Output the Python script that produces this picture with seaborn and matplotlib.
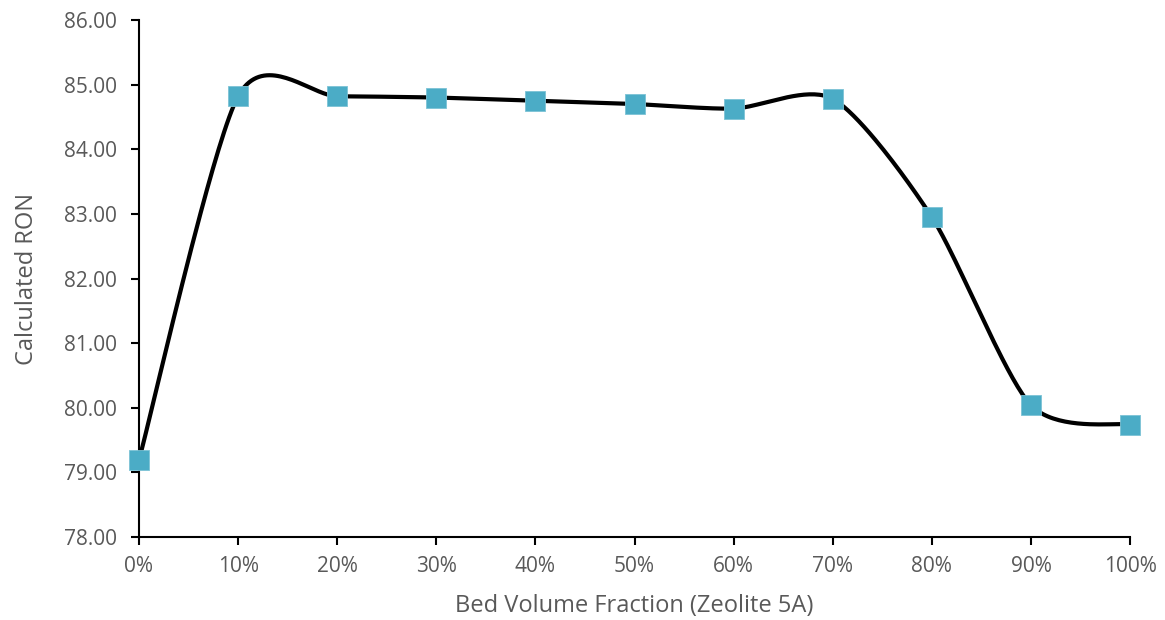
import numpy as np
import pandas as pd
import seaborn as sns
import matplotlib.pyplot as plt
from matplotlib.ticker import FuncFormatter

sns.set_style("white")
plt.rcParams['font.family'] = ['Open Sans', 'DejaVu Sans']

fraction = [0.0, 0.1, 0.2, 0.3, 0.4, 0.5, 0.6, 0.7, 0.8, 0.9, 1.0]
ron = [79.19, 84.82, 84.82, 84.80, 84.75, 84.70, 84.63, 84.78, 82.95, 80.04, 79.74]

df = pd.DataFrame({"fraction": fraction, "ron": ron})


# smoothed line like Excel's (bezier through the points)
def smooth_curve(x, y, k=0.13, n=40):
    p = np.column_stack([x, y])
    pts = np.vstack([p[0], p, p[-1]])
    out = []
    for i in range(1, len(pts) - 2):
        p0, p3 = pts[i], pts[i + 1]
        c1 = p0 + (pts[i + 1] - pts[i - 1]) * k
        c2 = p3 - (pts[i + 2] - pts[i]) * k
        t = np.linspace(0, 1, n)[:, None]
        seg = (1 - t) ** 3 * p0 + 3 * (1 - t) ** 2 * t * c1 + 3 * (1 - t) * t ** 2 * c2 + t ** 3 * p3
        out.append(seg if i == 1 else seg[1:])
    out = np.vstack(out)
    return out[:, 0], out[:, 1]


sx, sy = smooth_curve(np.array(fraction), np.array(ron))

fig = plt.figure(figsize=(11.65, 6.2), dpi=100)
ax = fig.add_axes([0.1193, 0.1339, 0.8507, 0.8338])

sns.lineplot(x=sx, y=sy, sort=False, color="black", linewidth=3, ax=ax, zorder=2)
sns.scatterplot(data=df, x="fraction", y="ron", marker="s", s=210, color="#4BACC6",
                edgecolor="#7cc3d6", linewidth=0.6, ax=ax, zorder=3, clip_on=False)

ax.set_xlim(0, 1)
ax.set_ylim(78, 86)
ax.set_xticks(np.arange(0, 1.01, 0.1))
ax.set_yticks(np.arange(78, 86.01, 1))
ax.xaxis.set_major_formatter(FuncFormatter(lambda v, _: f"{v * 100:.0f}%"))
ax.yaxis.set_major_formatter(FuncFormatter(lambda v, _: f"{v:.2f}"))

sns.despine(ax=ax)
for side in ["left", "bottom"]:
    ax.spines[side].set_color("black")
    ax.spines[side].set_linewidth(1.5)
ax.tick_params(axis="both", direction="out", length=6, width=1.5, color="black",
               labelsize=15, labelcolor="#595959", left=True, bottom=True)
ax.tick_params(axis="x", pad=8)
ax.tick_params(axis="y", pad=10)

ax.set_xlabel("Bed Volume Fraction (Zeolite 5A)", fontsize=17, color="#595959", labelpad=12)
ax.set_ylabel("Calculated RON", fontsize=17, color="#595959", labelpad=18)

fig.savefig("out.png", dpi=100)
